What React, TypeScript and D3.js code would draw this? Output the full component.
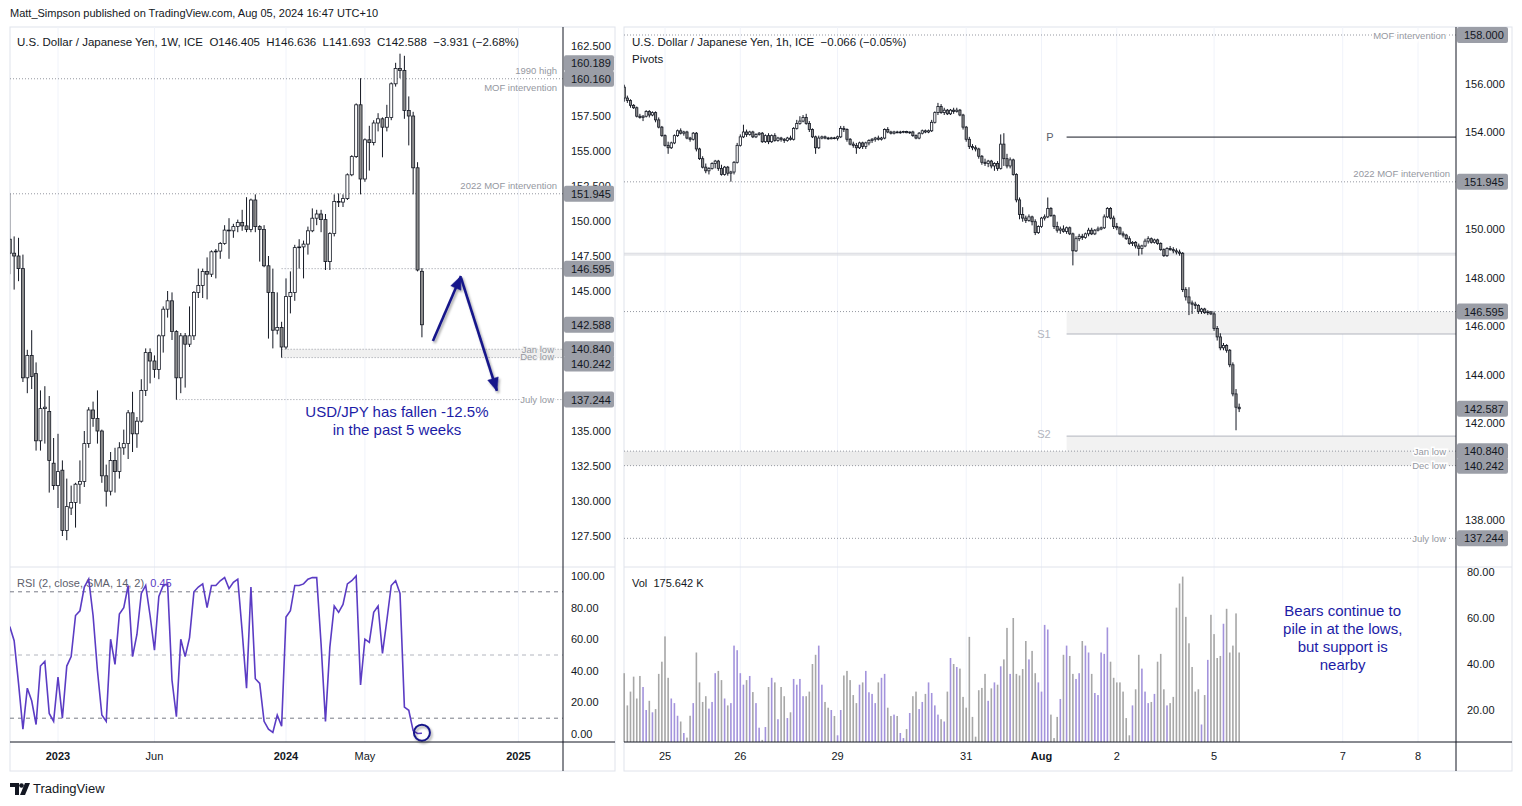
import React from 'react';
import * as d3 from 'd3';

type Bar = [number, number, number, number]; // open, high, low, close

// USD/JPY weekly, week of 2022-10-17 .. 2024-08-05
const weeklyBars: Bar[] = [
  [148.7, 151.94, 146.2, 147.7], [147.7, 148.9, 145.1, 147.5], [147.5, 148.8, 145.7, 146.6],
  [146.6, 147.6, 138.5, 138.8], [138.8, 140.8, 137.7, 140.4], [140.4, 142.2, 138.0, 138.9],
  [139.1, 139.9, 133.6, 134.3], [134.3, 137.9, 133.6, 136.6], [136.6, 138.2, 134.1, 136.7],
  [136.4, 137.5, 130.6, 132.9], [132.7, 134.5, 130.8, 131.1], [131.1, 134.8, 129.5, 132.1],
  [132.2, 132.9, 127.5, 127.9], [127.9, 131.6, 127.2, 129.6], [129.5, 131.1, 129.0, 129.9],
  [129.9, 131.3, 128.1, 131.2], [131.2, 132.9, 129.8, 131.4], [131.4, 135.0, 131.0, 134.1],
  [134.1, 136.7, 133.8, 136.5], [136.5, 137.1, 135.3, 135.9], [135.9, 137.9, 134.1, 135.0],
  [135.0, 135.1, 131.3, 131.8], [131.8, 132.6, 129.6, 130.7], [130.7, 133.5, 130.4, 132.9],
  [132.9, 133.8, 130.6, 132.1], [132.1, 134.2, 131.6, 133.8], [133.8, 135.1, 133.3, 134.1],
  [134.1, 136.5, 133.0, 136.3], [136.3, 137.8, 133.5, 134.8], [134.8, 136.0, 133.8, 135.7],
  [135.7, 138.7, 135.6, 137.9], [137.9, 140.9, 137.5, 140.6], [140.6, 140.9, 138.4, 140.0],
  [140.0, 140.4, 138.8, 139.4], [139.4, 141.9, 138.7, 141.8], [141.8, 143.9, 140.6, 143.7],
  [143.7, 145.0, 143.1, 144.3], [144.3, 144.9, 141.5, 142.1], [142.1, 142.2, 137.24, 138.8],
  [138.8, 142.0, 137.7, 141.8], [141.8, 142.0, 138.1, 141.2], [141.2, 143.9, 141.0, 141.8],
  [141.8, 145.0, 141.5, 144.9], [144.9, 146.6, 144.5, 145.4], [145.4, 146.6, 144.5, 146.4],
  [146.4, 147.4, 144.4, 146.2], [146.2, 147.9, 146.0, 147.8], [147.8, 148.0, 145.9, 147.85],
  [147.85, 148.5, 147.3, 148.4], [148.4, 149.7, 148.3, 149.35], [149.35, 150.2, 147.3, 149.3],
  [149.3, 149.8, 148.8, 149.6], [149.6, 150.1, 149.2, 149.9], [149.9, 150.8, 149.3, 149.65],
  [149.65, 151.7, 149.2, 149.4], [149.4, 151.6, 149.2, 151.5], [151.5, 151.9, 149.2, 149.6],
  [149.6, 149.7, 147.1, 149.4], [149.4, 149.7, 146.7, 146.8], [146.8, 147.5, 141.6, 144.9],
  [144.9, 146.6, 140.9, 142.2], [142.2, 144.9, 141.9, 142.4], [142.4, 142.8, 140.24, 141.0],
  [141.0, 145.9, 140.84, 144.6], [144.6, 146.4, 143.4, 144.9], [144.9, 148.3, 144.3, 148.1],
  [148.1, 148.7, 146.6, 148.15], [148.15, 148.6, 145.9, 148.35], [148.35, 149.6, 147.6, 149.3],
  [149.3, 150.9, 149.2, 150.2], [150.2, 150.8, 149.7, 150.5], [150.5, 150.8, 149.2, 150.1],
  [150.1, 150.5, 146.5, 147.1], [147.1, 149.2, 146.5, 149.1], [149.1, 151.9, 148.9, 151.4],
  [151.4, 151.97, 151.0, 151.35], [151.35, 151.9, 151.0, 151.6], [151.6, 153.4, 151.5, 153.3],
  [153.3, 154.7, 153.2, 154.6], [154.6, 158.4, 154.5, 158.3], [158.3, 160.2, 151.9, 153.0],
  [153.0, 155.9, 152.8, 155.8], [155.8, 156.8, 153.6, 155.6], [155.6, 157.2, 155.4, 157.0],
  [157.0, 157.7, 156.4, 157.3], [157.3, 157.4, 154.55, 156.7], [156.7, 158.3, 156.4, 157.4],
  [157.4, 159.9, 157.2, 159.8], [159.8, 161.3, 159.6, 160.9], [160.9, 161.95, 160.2, 160.75],
  [160.75, 161.8, 157.3, 157.9], [157.9, 158.9, 155.4, 157.5], [157.5, 157.8, 151.9, 153.8],
  [153.8, 154.2, 146.4, 146.5], [146.405, 146.636, 141.693, 142.588],
];

// RSI(2) of the weekly closes, one value per weekly bar
const weeklyRsi = [
  68, 59, 32, 3, 29, 21, 6, 43, 46, 13, 8, 36, 10, 43, 49, 75, 78, 93, 98, 75,
  40, 12, 8, 60, 44, 76, 80, 94, 49, 63, 89, 94, 75, 53, 87, 94, 95, 34, 11, 60,
  49, 61, 90, 93, 95, 80, 94, 94, 97, 99, 92, 96, 98, 65, 29, 93, 35, 32, 8, 3,
  1, 12, 5, 74, 78, 94, 94, 95, 98, 99, 99, 57, 8, 55, 81, 77, 82, 95, 97, 100,
  31, 60, 58, 77, 81, 51, 72, 94, 97, 89, 17, 15, 2, 0.3, 0.45,
];

// USD/JPY 1h, from 2024-07-24 11:00 (UTC+10) to 2024-08-05 15:00
const hourlyBars: Bar[] = [
  [155.85, 155.95, 155.25, 155.4], [155.4, 155.5, 155.2, 155.3], [155.3, 155.35, 155.0, 155.1],
  [155.1, 155.15, 154.95, 155.0], [155.0, 155.05, 154.6, 154.65], [154.65, 154.75, 154.55, 154.6],
  [154.6, 154.7, 154.45, 154.65], [154.65, 154.9, 154.6, 154.85], [154.85, 154.9, 154.6, 154.7],
  [154.7, 154.85, 154.65, 154.8], [154.8, 154.85, 154.4, 154.5], [154.5, 154.6, 154.15, 154.2],
  [154.2, 154.25, 153.8, 153.85],
  // Jul 25
  [153.85, 153.9, 153.4, 153.45], [153.45, 153.6, 153.1, 153.35], [153.35, 153.6, 153.3, 153.55],
  [153.55, 153.9, 153.5, 153.85], [153.85, 154.1, 153.8, 154.05], [154.05, 154.15, 153.9, 153.95],
  [153.95, 154.05, 153.85, 154.0], [154.0, 154.05, 153.7, 153.75], [153.75, 153.8, 153.6, 153.7],
  [153.7, 154.0, 153.65, 153.95], [153.95, 154.0, 153.2, 153.3], [153.3, 153.35, 152.85, 152.9],
  [152.9, 153.0, 152.5, 152.55], [152.55, 152.7, 152.3, 152.4], [152.4, 152.55, 152.25, 152.5],
  [152.5, 152.75, 152.45, 152.7], [152.7, 152.85, 152.5, 152.8], [152.8, 152.85, 152.4, 152.5],
  [152.5, 152.65, 152.2, 152.25], [152.25, 152.6, 152.2, 152.55], [152.55, 152.6, 152.2, 152.3],
  [152.3, 152.4, 151.95, 152.35], [152.35, 152.8, 152.25, 152.75], [152.75, 153.55, 152.7, 153.45],
  // Jul 26
  [153.45, 153.9, 153.4, 153.8], [153.8, 154.3, 153.75, 154.0], [154.0, 154.1, 153.8, 153.9],
  [153.9, 154.05, 153.85, 154.0], [154.0, 154.05, 153.75, 153.8], [153.8, 153.95, 153.75, 153.9],
  [153.9, 154.0, 153.85, 153.95], [153.95, 154.0, 153.55, 153.6], [153.6, 153.9, 153.55, 153.85],
  [153.85, 153.95, 153.5, 153.6], [153.6, 153.9, 153.55, 153.85], [153.85, 153.95, 153.6, 153.65],
  [153.65, 153.8, 153.6, 153.75], [153.75, 153.8, 153.6, 153.7], [153.7, 153.75, 153.55, 153.65],
  [153.65, 153.8, 153.6, 153.75], [153.75, 153.85, 153.65, 153.7], [153.7, 154.2, 153.65, 154.15],
  [154.15, 154.5, 154.1, 154.35], [154.35, 154.65, 154.3, 154.45], [154.45, 154.7, 154.4, 154.6],
  [154.6, 154.75, 154.3, 154.35], [154.35, 154.45, 154.0, 154.1], [154.1, 154.15, 153.75, 153.8],
  [153.8, 153.85, 153.1, 153.35], [153.35, 153.85, 153.3, 153.75], [153.75, 153.85, 153.7, 153.8],
  [153.8, 153.85, 153.7, 153.75], [153.75, 153.8, 153.68, 153.72], [153.72, 153.8, 153.7, 153.76],
  [153.76, 153.8, 153.7, 153.74],
  // Jul 29
  [153.74, 153.85, 153.65, 153.8], [153.8, 154.25, 153.75, 154.15], [154.15, 154.25, 154.0, 154.1],
  [154.1, 154.15, 153.6, 153.7], [153.7, 153.75, 153.45, 153.5], [153.5, 153.6, 153.35, 153.45],
  [153.45, 153.55, 153.1, 153.35], [153.35, 153.6, 153.3, 153.55], [153.55, 153.6, 153.3, 153.4],
  [153.4, 153.6, 153.3, 153.55], [153.55, 153.7, 153.45, 153.65], [153.65, 153.75, 153.55, 153.7],
  [153.7, 153.8, 153.6, 153.75], [153.75, 153.85, 153.65, 153.7], [153.7, 153.8, 153.65, 153.75],
  [153.75, 154.15, 153.7, 154.1], [154.1, 154.2, 153.95, 154.0],
  // Jul 30
  [154.0, 154.05, 153.9, 153.95], [153.95, 154.05, 153.9, 154.0], [154.0, 154.05, 153.95, 153.98],
  [153.98, 154.05, 153.93, 154.0], [154.0, 154.05, 153.95, 154.02], [154.02, 154.05, 153.95, 153.97],
  [153.97, 154.02, 153.92, 154.0], [154.0, 154.05, 153.8, 153.85], [153.85, 153.9, 153.7, 153.75],
  [153.75, 154.0, 153.7, 153.95], [153.95, 154.1, 153.9, 154.05], [154.05, 154.1, 153.95, 154.0],
  [154.0, 154.1, 153.95, 154.05], [154.05, 154.5, 154.0, 154.4], [154.4, 154.85, 154.35, 154.8],
  [154.8, 155.2, 154.7, 155.05], [155.05, 155.15, 154.75, 154.8], [154.8, 155.0, 154.7, 154.9],
  [154.9, 154.95, 154.7, 154.75], [154.75, 154.95, 154.7, 154.9], [154.9, 155.0, 154.75, 154.85],
  [154.85, 155.0, 154.8, 154.9], [154.9, 154.95, 154.65, 154.7], [154.7, 154.75, 154.1, 154.2],
  // Jul 31
  [154.2, 154.25, 153.6, 153.7], [153.7, 153.8, 153.3, 153.4], [153.4, 153.5, 153.25, 153.35],
  [153.35, 153.45, 153.2, 153.3], [153.3, 153.35, 152.9, 153.0], [153.0, 153.05, 152.65, 152.75],
  [152.75, 152.9, 152.6, 152.7], [152.7, 152.85, 152.55, 152.8], [152.8, 152.85, 152.5, 152.6],
  [152.6, 152.75, 152.4, 152.7], [152.7, 152.8, 152.4, 152.5], [152.5, 153.9, 152.45, 153.5],
  [153.5, 153.95, 152.6, 152.9], [152.9, 153.1, 152.5, 152.6], [152.6, 152.95, 152.5, 152.85],
  [152.85, 152.9, 152.2, 152.25], [152.25, 152.3, 151.1, 151.2], [151.2, 151.3, 150.4, 150.6],
  [150.6, 150.9, 150.3, 150.45], [150.45, 150.55, 150.25, 150.35], [150.35, 150.6, 150.3, 150.5],
  [150.5, 150.55, 150.15, 150.3], [150.3, 150.4, 149.75, 149.85], [149.85, 150.15, 149.8, 150.1],
  // Aug 1
  [150.1, 150.5, 150.05, 150.45], [150.45, 150.6, 150.35, 150.5], [150.5, 151.3, 150.45, 150.85],
  [150.85, 150.9, 150.5, 150.55], [150.55, 150.6, 150.0, 150.1], [150.1, 150.3, 149.85, 149.95],
  [149.95, 150.1, 149.8, 150.0], [150.0, 150.15, 149.85, 149.9], [149.9, 150.1, 149.8, 150.05],
  [150.05, 150.1, 149.75, 149.8], [149.8, 149.85, 148.5, 149.1], [149.1, 149.7, 149.05, 149.6],
  [149.6, 149.8, 149.5, 149.7], [149.7, 149.8, 149.55, 149.65], [149.65, 149.85, 149.6, 149.8],
  [149.8, 150.05, 149.7, 149.95], [149.95, 150.05, 149.75, 149.8], [149.8, 150.0, 149.75, 149.95],
  [149.95, 150.1, 149.9, 150.0], [150.0, 150.1, 149.95, 150.05], [150.05, 150.6, 150.0, 150.5],
  [150.5, 150.9, 150.45, 150.85], [150.85, 150.9, 150.4, 150.45], [150.45, 150.55, 150.0, 150.1],
  // Aug 2
  [150.1, 150.25, 149.95, 150.05], [150.05, 150.1, 149.75, 149.8], [149.8, 149.9, 149.65, 149.75],
  [149.75, 149.8, 149.55, 149.6], [149.6, 149.7, 149.35, 149.4], [149.4, 149.5, 149.3, 149.45],
  [149.45, 149.5, 149.2, 149.3], [149.3, 149.4, 148.9, 149.2], [149.2, 149.35, 148.95, 149.3],
  [149.3, 149.6, 149.25, 149.5], [149.5, 149.7, 149.4, 149.6], [149.6, 149.65, 149.4, 149.45],
  [149.45, 149.6, 149.4, 149.55], [149.55, 149.6, 149.35, 149.4], [149.4, 149.45, 149.1, 149.15],
  [149.15, 149.2, 148.85, 148.9], [148.9, 149.25, 148.85, 149.2], [149.2, 149.3, 149.1, 149.15],
  [149.15, 149.25, 149.0, 149.1], [149.1, 149.2, 148.95, 149.05], [149.05, 149.15, 148.9, 149.0],
  [149.0, 149.05, 147.4, 147.5], [147.5, 147.6, 147.05, 147.2], [147.2, 147.6, 146.45, 146.95],
  [146.95, 147.05, 146.5, 146.9], [146.9, 147.0, 146.7, 146.85], [146.85, 146.9, 146.5, 146.6],
  [146.6, 146.75, 146.5, 146.7], [146.7, 146.75, 146.5, 146.55], [146.55, 146.65, 146.45, 146.58],
  [146.58, 146.62, 146.45, 146.5],
  // Aug 5
  [146.5, 146.6, 145.8, 145.9], [145.9, 146.0, 145.4, 145.55], [145.55, 145.7, 145.0, 145.1],
  [145.1, 145.3, 145.0, 145.2], [145.2, 145.25, 144.9, 145.0], [145.0, 145.05, 144.3, 144.4],
  [144.4, 144.5, 143.1, 143.2], [143.2, 143.4, 141.7, 142.65], [142.65, 142.8, 142.45, 142.587],
];

// hourly volume (K), one per hourly bar
const hourlyVolume = [
  36, 22, 28, 34.5, 25, 34.8, 30, 20, 24, 19,
  20.4, 35.7, 41, 52, 34, 25, 23, 17.5, 15, 10,
  8, 17.5, 23, 45, 32, 23.5, 26, 20.6, 23.5, 36,
  37, 33, 25, 22, 23, 48, 46, 36, 31, 33,
  34.8, 27.8, 23, 12.3, 7, 12.6, 30, 34, 32, 16,
  30, 26,
  16.5, 19, 33.5, 31, 33.5, 26, 26, 28, 40, 44,
  48, 31, 23.5, 21, 20, 17.4, 9, 20, 35, 37,
  33, 26.5, 23, 31, 32, 37, 27.7, 27, 23, 32,
  34, 35.7, 21, 17.4, 18, 17.4, 10, 7.8, 11.7, 18.7,
  26, 28, 20.4, 23.5, 27, 32, 27.4, 22, 18, 16,
  15, 28, 42.6, 40, 38.7, 38, 25.7, 21, 51.8, 17,
  8.4, 28.6, 29.6, 35.7, 24, 29.4, 32, 31, 39, 42,
  55.7, 35.7, 60, 35.7, 35, 37.8, 50, 42, 45.7, 36,
  32, 28, 57, 55, 18, 7.8, 17, 24.8, 44, 48,
  43.5, 35.7, 33.5, 36, 50, 48, 45, 35.7, 27.4, 26.5,
  45, 44.4, 55.9, 41, 34, 32, 32, 28, 16.5, 9,
  22, 29, 44, 38, 28, 23, 23.5, 27, 41, 44.4,
  29, 22, 23, 25.7, 64.5, 75, 78, 60.5, 49, 38.7,
  28, 29, 13.7, 26.5, 41.8, 61.4, 53, 42.6, 43.5, 57.5,
  64, 45, 48, 62, 45,
];

// time axis labels (bar index of first bar of the period)
const weeklyTimeTicks = [
  { i: 11, label: '2023', bold: true }, { i: 33, label: 'Jun', bold: false },
  { i: 63, label: '2024', bold: true }, { i: 81, label: 'May', bold: false },
  { i: 116, label: '2025', bold: true },
];
const hourlyTimeTicks = [
  { i: 13, label: '25', bold: false }, { i: 37, label: '26', bold: false },
  { i: 68, label: '29', bold: false }, { i: 109, label: '31', bold: false },
  { i: 133, label: 'Aug', bold: true }, { i: 157, label: '2', bold: false },
  { i: 188, label: '5', bold: false }, { i: 229, label: '7', bold: false },
  { i: 253, label: '8', bold: false },
];

const weeklyPriceTicks = d3.range(127.5, 162.51, 2.5);
const hourlyPriceTicks = d3.range(138, 158.01, 2);
const rsiTicks = [0, 20, 40, 60, 80, 100];
const volumeTicks = [20, 40, 60, 80];

// price labels on the axes
const weeklyPriceTags = [160.189, 160.16, 151.945, 146.595, 142.588, 140.84, 140.242, 137.244];
const hourlyPriceTags = [158.0, 151.945, 146.595, 142.587, 140.84, 140.242, 137.244];

// drawn levels on the weekly chart (start = weekly bar index)
const weeklyLevels = [
  { price: 160.16, start: 0, above: '1990 high', below: 'MOF intervention' },
  { price: 151.945, start: 0, above: '2022 MOF intervention', below: '' },
  { price: 146.595, start: 62, above: '', below: '' },
  { price: 137.244, start: 38, on: 'July low' },
];
const weeklyLowZone = { top: 140.84, bottom: 140.242, start: 62 };

// hourly chart levels and daily pivots
const hourlyLevels = [
  { price: 158.0, on: 'MOF intervention' },
  { price: 151.945, above: '2022 MOF intervention' },
  { price: 146.595 },
  { price: 140.84, on: 'Jan low' },
  { price: 140.242, on: 'Dec low' },
  { price: 137.244, on: 'July low' },
];
const pivots = { start: 141, P: 153.79, S1: 145.67, S2: 141.46 };
const grayBand = [148.93, 149.0];

const FONT = '"Liberation Sans", Arial, sans-serif';
const TXT = '#131722';
const LVL = '#9598a1';
const NAVY = '#17178a';

function arrowHead(x1: number, y1: number, x2: number, y2: number, len = 13, w = 5.5) {
  const a = Math.atan2(y2 - y1, x2 - x1);
  const bx = x2 - len * Math.cos(a), by = y2 - len * Math.sin(a);
  const px = -Math.sin(a) * w, py = Math.cos(a) * w;
  return `${x2},${y2} ${bx + px},${by + py} ${bx - px},${by - py}`;
}

function Candles({ bars, x, y, bw }: { bars: Bar[]; x: (i: number) => number; y: (p: number) => number; bw: number }) {
  return (
    <g>
      {bars.map(([o, h, l, c], i) => {
        const cx = x(i);
        const up = c >= o;
        const top = y(Math.max(o, c));
        const bot = y(Math.min(o, c));
        return (
          <g key={i}>
            <line x1={cx} x2={cx} y1={y(h)} y2={y(l)} stroke={TXT} strokeWidth={1} />
            <rect x={cx - bw / 2} y={top} width={bw} height={Math.max(bot - top, 0.8)}
              fill={up ? '#ffffff' : '#8c8c8c'} stroke={TXT} strokeWidth={0.8} />
          </g>
        );
      })}
    </g>
  );
}

function PriceTag({ x, y, text, w }: { x: number; y: number; text: string; w: number }) {
  return (
    <g>
      <rect x={x} y={y - 8} width={w} height={16} rx={2} fill="#9b9ea7" />
      <text x={x + 7} y={y + 4} fontSize={11} fill={TXT}>{text}</text>
    </g>
  );
}

// tick labels that sit on top of a tag are hidden, as TradingView does
function freeOfTags(y: number, tagYs: number[]) {
  return tagYs.every(t => Math.abs(t - y) >= 7);
}

export default function App() {
  // weekly chart
  const xW = d3.scaleLinear().domain([11, 116]).range([58, 518.4]);
  const yW = d3.scaleLinear().domain([127.5, 162.5]).range([536, 46]);
  const yRsi = d3.scaleLinear().domain([0, 100]).range([734, 576]);
  // hourly chart
  const xHr = d3.scaleLinear().domain([13, 253]).range([665, 1418]);
  const yHr = d3.scaleLinear().domain([138, 158]).range([520, 35]);
  const yVol = d3.scaleLinear().domain([20, 80]).range([710, 572]);

  const L = { x0: 10, x1: 563, right: 615 };
  const R = { x0: 624, x1: 1456, right: 1512 };
  const top = 27, mainBottom = 567, paneBottom = 742, bottom = 771;

  const rsiPath = d3.line<number>().x((_, i) => xW(i)).y(d => yRsi(d))(weeklyRsi) ?? '';

  // weekly tags: TradingView stacks the overlapping ones
  const tagOffset: Record<string, number> = { '160.189': -15, '140.242': 6 };
  const wTagYs = weeklyPriceTags.map(p => yW(p) + (tagOffset[p.toString()] ?? 0));
  const hTagYs = hourlyPriceTags.map(p => yHr(p));

  const a1 = [xW(96.5), yW(141.43), xW(102.9), yW(146.07)];
  const a2 = [xW(102.9), yW(145.95), xW(111.1), yW(137.86)];

  const pre = { whiteSpace: 'pre' as const };

  return (
    <svg width={1522} height={806} style={{ position: 'absolute', left: 0, top: 0, background: '#fff' }}
      fontFamily={FONT}>
      <defs>
        <filter id="shadow" x="-30%" y="-30%" width="160%" height="160%">
          <feDropShadow dx="1.5" dy="2" stdDeviation="1.3" floodColor="#000" floodOpacity="0.35" />
        </filter>
        <clipPath id="clipWMain"><rect x={L.x0} y={top} width={L.x1 - L.x0} height={mainBottom - top} /></clipPath>
        <clipPath id="clipWRsi"><rect x={L.x0} y={mainBottom} width={L.x1 - L.x0} height={paneBottom - mainBottom} /></clipPath>
        <clipPath id="clipHMain"><rect x={R.x0} y={top} width={R.x1 - R.x0} height={mainBottom - top} /></clipPath>
      </defs>
      <rect width={1522} height={806} fill="#fff" />

      <text x={10} y={17} fontSize={11} fill={TXT}>Matt_Simpson published on TradingView.com, Aug 05, 2024 16:47 UTC+10</text>

      {/* ===== LEFT: weekly ===== */}
      <rect x={L.x0} y={top} width={L.right - L.x0} height={bottom - top} fill="none" stroke="#e0e3eb" />
      {weeklyTimeTicks.map(t => (
        <line key={t.label} x1={xW(t.i)} x2={xW(t.i)} y1={top} y2={paneBottom} stroke="#f0f3fa" />
      ))}
      <line x1={L.x0} x2={L.right} y1={mainBottom} y2={mainBottom} stroke="#e0e3eb" />

      <g clipPath="url(#clipWMain)">
        <rect x={xW(weeklyLowZone.start)} y={yW(weeklyLowZone.top)} width={L.x1 - xW(weeklyLowZone.start)}
          height={yW(weeklyLowZone.bottom) - yW(weeklyLowZone.top)} fill="#f0f0f0" />
        {[weeklyLowZone.top, weeklyLowZone.bottom].map(p => (
          <line key={p} x1={xW(weeklyLowZone.start)} x2={L.x1} y1={yW(p)} y2={yW(p)} stroke={LVL} strokeDasharray="1 2" />
        ))}
        {weeklyLevels.map(l => (
          <line key={l.price} x1={Math.max(L.x0, xW(l.start))} x2={L.x1} y1={yW(l.price)} y2={yW(l.price)}
            stroke={LVL} strokeDasharray="1 2" />
        ))}
        <Candles bars={weeklyBars} x={xW} y={yW} bw={3} />
      </g>
      <g fontSize={9.5} fill={LVL} textAnchor="end">
        {weeklyLevels.map(l => (
          <g key={l.price}>
            {l.above && <text x={557} y={yW(l.price) - 5}>{l.above}</text>}
            {l.below && <text x={557} y={yW(l.price) + 12}>{l.below}</text>}
            {l.on && <text x={554} y={yW(l.price) + 3.5} stroke="#fff" strokeWidth={3} paintOrder="stroke">{l.on}</text>}
          </g>
        ))}
        <text x={554} y={yW(weeklyLowZone.top) + 3.5} stroke="#f0f0f0" strokeWidth={2} paintOrder="stroke">Jan low</text>
        <text x={554} y={yW(weeklyLowZone.bottom) + 2.5} stroke="#f0f0f0" strokeWidth={2} paintOrder="stroke">Dec low</text>
      </g>

      <text x={17} y={46} fontSize={11.5} fill={TXT} style={pre}>
        {'U.S. Dollar / Japanese Yen, 1W, ICE  O146.405  H146.636  L141.693  C142.588  −3.931 (−2.68%)'}
      </text>

      {/* annotation */}
      <g filter="url(#shadow)" stroke={NAVY} fill={NAVY}>
        <line x1={a1[0]} y1={a1[1]} x2={a1[2]} y2={a1[3]} strokeWidth={2.6} />
        <polygon points={arrowHead(a1[0], a1[1], a1[2], a1[3])} strokeWidth={0.5} />
        <line x1={a2[0]} y1={a2[1]} x2={a2[2]} y2={a2[3]} strokeWidth={2.6} />
        <polygon points={arrowHead(a2[0], a2[1], a2[2], a2[3])} strokeWidth={0.5} />
      </g>
      <g fontSize={15} fill="#1c1ca6" textAnchor="middle">
        <text x={xW(88.3)} y={yW(136.36) + 5}>USD/JPY has fallen -12.5%</text>
        <text x={xW(88.3)} y={yW(135.07) + 5}>in the past 5 weeks</text>
      </g>

      {/* RSI pane */}
      <g clipPath="url(#clipWRsi)">
        {[90, 50, 10].map(v => (
          <line key={v} x1={L.x0} x2={L.x1} y1={yRsi(v)} y2={yRsi(v)}
            stroke={v === 50 ? '#b2b5be' : '#787b86'} strokeDasharray="4 4" />
        ))}
        <text x={17} y={587} fontSize={11} fill="#5d606b" style={pre}>
          {'RSI (2, close, SMA, 14, 2)  '}<tspan fill="#5b3cc4">0.45</tspan>
        </text>
        <path d={rsiPath} fill="none" stroke="#5b3cc4" strokeWidth={1.6} />
      </g>
      <circle cx={xW(94)} cy={yRsi(0.8)} r={8} fill="none" stroke={NAVY} strokeWidth={2} filter="url(#shadow)" />

      {/* weekly axes */}
      <line x1={L.x0} x2={L.right} y1={paneBottom} y2={paneBottom} stroke={TXT} />
      <line x1={L.x1} x2={L.x1} y1={top} y2={bottom} stroke={TXT} />
      <g fontSize={11} fill={TXT}>
        {weeklyPriceTicks.filter(p => freeOfTags(yW(p), wTagYs)).map(p => (
          <text key={p} x={571} y={yW(p) + 4}>{p.toFixed(3)}</text>
        ))}
        {rsiTicks.map(v => (
          <text key={v} x={571} y={yRsi(v) + 4}>{v.toFixed(2)}</text>
        ))}
        {weeklyTimeTicks.map(t => (
          <text key={t.label} x={xW(t.i)} y={760} textAnchor="middle" fontWeight={t.bold ? 'bold' : 'normal'}>{t.label}</text>
        ))}
      </g>
      {weeklyPriceTags.map((p, k) => (
        <PriceTag key={p} x={L.x1 + 1} y={wTagYs[k]} text={p.toFixed(3)} w={50} />
      ))}

      {/* ===== RIGHT: hourly ===== */}
      <rect x={R.x0} y={top} width={R.right - R.x0} height={bottom - top} fill="none" stroke="#e0e3eb" />
      {hourlyTimeTicks.map(t => (
        <line key={t.label} x1={xHr(t.i)} x2={xHr(t.i)} y1={top} y2={paneBottom} stroke="#f0f3fa" />
      ))}
      <line x1={R.x0} x2={R.right} y1={mainBottom} y2={mainBottom} stroke="#e0e3eb" />

      <g clipPath="url(#clipHMain)">
        <rect x={xHr(pivots.start)} y={yHr(146.595)} width={R.x1 - xHr(pivots.start)}
          height={yHr(pivots.S1) - yHr(146.595)} fill="#f2f2f2" />
        <rect x={xHr(pivots.start)} y={yHr(pivots.S2)} width={R.x1 - xHr(pivots.start)}
          height={yHr(140.242) - yHr(pivots.S2)} fill="#f2f2f2" />
        <rect x={R.x0} y={yHr(140.84)} width={R.x1 - R.x0} height={yHr(140.242) - yHr(140.84)} fill="#ececec" />
        {grayBand.map(p => (
          <line key={p} x1={R.x0} x2={R.x1} y1={yHr(p)} y2={yHr(p)} stroke="#d6d8de" />
        ))}
        {hourlyLevels.map(l => (
          <line key={l.price} x1={R.x0} x2={R.x1} y1={yHr(l.price)} y2={yHr(l.price)} stroke={LVL} strokeDasharray="1 2" />
        ))}
        <line x1={xHr(pivots.start)} x2={R.x1} y1={yHr(pivots.P)} y2={yHr(pivots.P)} stroke={TXT} />
        <line x1={xHr(pivots.start)} x2={R.x1} y1={yHr(pivots.S1)} y2={yHr(pivots.S1)} stroke="#b2b5be" />
        <line x1={xHr(pivots.start)} x2={R.x1} y1={yHr(pivots.S2)} y2={yHr(pivots.S2)} stroke="#b2b5be" />
        <Candles bars={hourlyBars} x={xHr} y={yHr} bw={2.2} />
      </g>
      <g fontSize={11} textAnchor="end">
        <text x={xHr(pivots.start) - 13} y={yHr(pivots.P) + 4} fill="#5d606b">P</text>
        <text x={xHr(pivots.start) - 16} y={yHr(pivots.S1) + 4} fill="#b2b5be">S1</text>
        <text x={xHr(pivots.start) - 16} y={yHr(pivots.S2) + 2} fill="#b2b5be">S2</text>
      </g>
      <g fontSize={9.5} fill={LVL} textAnchor="end">
        {hourlyLevels.map(l => (
          <g key={l.price}>
            {l.above && <text x={1450} y={yHr(l.price) - 5}>{l.above}</text>}
            {l.on && <text x={1446} y={yHr(l.price) + 3.5} stroke="#fff" strokeWidth={3} paintOrder="stroke">{l.on}</text>}
          </g>
        ))}
      </g>

      <text x={632} y={46} fontSize={11.5} fill={TXT} style={pre}>{'U.S. Dollar / Japanese Yen, 1h, ICE  −0.066 (−0.05%)'}</text>
      <text x={632} y={63} fontSize={11.5} fill={TXT}>Pivots</text>

      {/* volume pane */}
      <g>
        {hourlyVolume.map((v, i) => {
          const b = hourlyBars[i];
          const up = b ? b[3] >= b[0] : false;
          return (
            <rect key={i} x={xHr(i) - 0.8} y={yVol(v)} width={1.6} height={paneBottom - yVol(v)}
              fill={up ? '#a393dc' : '#a7a7a7'} />
          );
        })}
      </g>
      <text x={632} y={587} fontSize={11} fill={TXT} style={pre}>{'Vol  175.642 K'}</text>
      <g fontSize={15} fill="#1c1ca6" textAnchor="middle">
        {['Bears continue to', 'pile in at the lows,', 'but support is', 'nearby'].map((s, k) => (
          <text key={s} x={xHr(229)} y={yVol(63 - k * 7.8) + 5}>{s}</text>
        ))}
      </g>

      {/* hourly axes */}
      <line x1={R.x0} x2={R.right} y1={paneBottom} y2={paneBottom} stroke={TXT} />
      <line x1={R.x1} x2={R.x1} y1={top} y2={bottom} stroke={TXT} />
      <g fontSize={11} fill={TXT}>
        {hourlyPriceTicks.filter(p => freeOfTags(yHr(p), hTagYs)).map(p => (
          <text key={p} x={1465} y={yHr(p) + 4}>{p.toFixed(3)}</text>
        ))}
        {volumeTicks.map(v => (
          <text key={v} x={1467} y={yVol(v) + 4}>{v.toFixed(2)}</text>
        ))}
        {hourlyTimeTicks.map(t => (
          <text key={t.label} x={xHr(t.i)} y={760} textAnchor="middle" fontWeight={t.bold ? 'bold' : 'normal'}>{t.label}</text>
        ))}
      </g>
      {hourlyPriceTags.map((p, k) => (
        <PriceTag key={p} x={R.x1 + 1} y={hTagYs[k]} text={p.toFixed(3)} w={51} />
      ))}

      {/* footer logo */}
      <g fill={TXT}>
        <path d="M10 783 h9 v12 h-4 v-8 h-5 z" />
        <circle cx={21.5} cy={785.5} r={2.3} />
        <path d="M25 783 h5 l-5 12 h-5 z" />
        <text x={33} y={793} fontSize={13}>TradingView</text>
      </g>
    </svg>
  );
}
